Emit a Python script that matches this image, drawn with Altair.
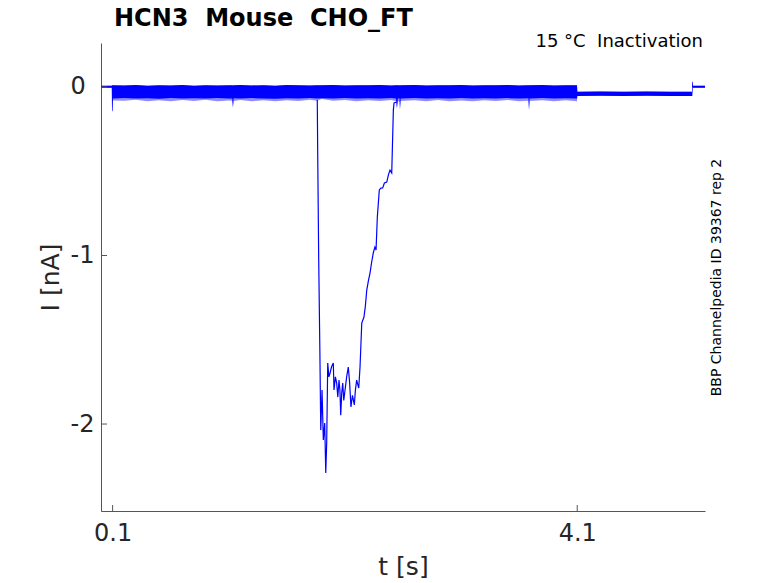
import altair as alt
import pandas as pd

# ---- data ----
# overlapped sweeps envelope: time [s], upper edge, solid lower edge, faint lower fringe [nA]
band_t = [0.0, 0.05, 0.093, 0.095, 0.099, 0.103, 0.2, 0.3, 0.4, 0.5, 0.6, 0.7, 0.8, 0.9, 1.0,
          1.1, 1.13, 1.136, 1.142, 1.2, 1.3, 1.4, 1.5, 1.6, 1.7, 1.8, 1.86, 1.9, 2.0, 2.1, 2.2,
          2.3, 2.4, 2.5, 2.54, 2.548, 2.556, 2.57, 2.574, 2.58, 2.7, 2.8, 2.9, 3.0, 3.1, 3.2,
          3.3, 3.4, 3.5, 3.6, 3.68, 3.685, 3.69, 3.8, 3.9, 4.0, 4.098, 4.101, 4.3, 4.5, 4.7,
          4.9, 5.088, 5.09, 5.094, 5.097, 5.2]
band_hi = [0.008, 0.008, 0.008, 0.010, 0.010, 0.011, 0.009, 0.012, 0.008, 0.011, 0.009, 0.012,
           0.008, 0.011, 0.009, 0.010, 0.011, 0.009, 0.010, 0.012, 0.009, 0.011, 0.008, 0.012,
           0.010, 0.009, 0.011, 0.010, 0.012, 0.009, 0.011, 0.010, 0.012, 0.009, 0.010, 0.011,
           0.010, 0.011, 0.009, 0.010, 0.012, 0.009, 0.011, 0.010, 0.012, 0.009, 0.011, 0.010,
           0.012, 0.009, 0.011, 0.010, 0.010, 0.012, 0.009, 0.011, 0.010, -0.028, -0.027,
           -0.029, -0.027, -0.028, -0.028, 0.031, 0.031, 0.008, 0.008]
band_core = [-0.004, -0.004, -0.004, -0.140, -0.145, -0.068, -0.066, -0.069, -0.067, -0.070,
             -0.066, -0.068, -0.067, -0.069, -0.066, -0.068, -0.068, -0.120, -0.067, -0.069,
             -0.066, -0.068, -0.070, -0.067, -0.068, -0.066, -0.069, -0.067, -0.068, -0.066,
             -0.069, -0.067, -0.068, -0.066, -0.069, -0.125, -0.068, -0.067, -0.130, -0.068,
             -0.066, -0.069, -0.067, -0.068, -0.066, -0.069, -0.067, -0.068, -0.066, -0.069,
             -0.067, -0.137, -0.068, -0.066, -0.069, -0.067, -0.068, -0.053, -0.052, -0.053,
             -0.052, -0.053, -0.053, -0.053, -0.002, -0.004, -0.004]
band_lo = [-0.004, -0.004, -0.004, -0.140, -0.145, -0.080, -0.082, -0.076, -0.084, -0.079,
           -0.085, -0.077, -0.083, -0.076, -0.084, -0.080, -0.082, -0.120, -0.083, -0.077,
           -0.084, -0.079, -0.085, -0.078, -0.083, -0.076, -0.081, -0.072, -0.082, -0.077,
           -0.084, -0.079, -0.083, -0.077, -0.084, -0.125, -0.084, -0.086, -0.130, -0.083,
           -0.079, -0.085, -0.077, -0.084, -0.080, -0.085, -0.078, -0.083, -0.077, -0.085,
           -0.082, -0.137, -0.083, -0.079, -0.085, -0.078, -0.084, -0.053, -0.052, -0.053,
           -0.052, -0.053, -0.053, -0.053, -0.002, -0.004, -0.004]

# single sweep with the large transient
sweep_t = [1.862, 1.866, 1.874, 1.884, 1.892, 1.903, 1.914, 1.926, 1.935, 1.943, 1.952, 1.962,
           1.972, 1.985, 2.0, 2.006, 2.018, 2.029, 2.039, 2.049, 2.057, 2.064, 2.072, 2.081,
           2.09, 2.101, 2.115, 2.129, 2.14, 2.152, 2.165, 2.181, 2.19, 2.201, 2.219, 2.23,
           2.245, 2.264, 2.276, 2.288, 2.302, 2.316, 2.33, 2.344, 2.358, 2.368, 2.379, 2.396,
           2.41, 2.425, 2.44, 2.46, 2.475, 2.488, 2.503, 2.517, 2.523, 2.546]
sweep_i = [-0.077, -0.414, -1.007, -1.55, -2.036, -1.798, -2.095, -1.994, -2.291, -2.113,
           -1.638, -1.72, -1.697, -1.66, -1.638, -1.798, -1.72, -1.757, -1.84, -1.739, -1.80,
           -1.947, -1.82, -1.757, -1.86, -1.798, -1.72, -1.662, -1.75, -1.899, -1.83, -1.887,
           -1.80, -1.739, -1.786, -1.662, -1.401, -1.365, -1.30, -1.205, -1.15, -1.104, -1.04,
           -0.985, -0.95, -0.967, -0.772, -0.611, -0.60, -0.599, -0.57, -0.564, -0.52, -0.493,
           -0.510, -0.136, -0.095, -0.089]

x_ticks = [0.1, 4.1]
y_ticks = [0, -1, -2]
title_text = "HCN3 \u00a0Mouse \u00a0CHO_FT"
cond_text = ["15 °C \u00a0Inactivation"]
side_text = ["BBP Channelpedia ID 39367 rep 2"]

W, H = 604, 468
FONT = "DejaVu Sans"
BLUE = "#0000ff"
AX = "#555555"
TXT = "#262626"

xs = alt.Scale(domain=[0, 5.2], nice=False, zero=False)
ys = alt.Scale(domain=[-2.516, 0.261], nice=False, zero=False)

band_df = pd.DataFrame({"t": band_t, "hi": band_hi, "core": band_core, "lo": band_lo})
sweep_df = pd.DataFrame({"t": sweep_t, "i": sweep_i})

fringe = alt.Chart(band_df).mark_area(color=BLUE, opacity=0.45, interpolate="linear").encode(
    x=alt.X("t:Q", scale=xs,
            axis=alt.Axis(values=x_ticks, format=".1f", title="t [s]", grid=False,
                          ticks=False, tickSize=0, labelPadding=10, titlePadding=9,
                          labelFontSize=24, titleFontSize=25, labelFont=FONT, titleFont=FONT,
                          labelColor=TXT, titleColor=TXT, titleFontWeight="normal",
                          domainColor=AX, domainWidth=1)),
    y=alt.Y("hi:Q", scale=ys,
            axis=alt.Axis(values=y_ticks, labelExpr="'' + datum.value", title="I [nA]",
                          grid=False, ticks=False, tickSize=0, labelPadding=31,
                          labelAlign="left", titlePadding=7,
                          labelFontSize=24, titleFontSize=25, labelFont=FONT, titleFont=FONT,
                          labelColor=TXT, titleColor=TXT, titleFontWeight="normal",
                          domainColor=AX, domainWidth=1)),
    y2="lo:Q",
)

band = alt.Chart(band_df).mark_area(color=BLUE, opacity=1, interpolate="linear").encode(
    x=alt.X("t:Q", scale=xs),
    y=alt.Y("hi:Q", scale=ys),
    y2="core:Q",
)

sweep = alt.Chart(sweep_df).mark_line(color=BLUE, strokeWidth=1.2, interpolate="linear").encode(
    x=alt.X("t:Q", scale=xs),
    y=alt.Y("i:Q", scale=ys),
)

xt = alt.Chart(pd.DataFrame({"t": x_ticks})).mark_rule(color=AX, strokeWidth=1).encode(
    x=alt.X("t:Q", scale=xs), y=alt.value(H), y2=alt.value(H - 6))
yt = alt.Chart(pd.DataFrame({"v": y_ticks})).mark_rule(color=AX, strokeWidth=1).encode(
    y=alt.Y("v:Q", scale=ys), x=alt.value(0), x2=alt.value(6))

cond = alt.Chart(pd.DataFrame({"s": cond_text})).mark_text(
    font=FONT, fontSize=18, color="#000000", align="right", baseline="alphabetic").encode(
    text="s:N", x=alt.value(602), y=alt.value(4))

side = alt.Chart(pd.DataFrame({"s": side_text})).mark_text(
    font=FONT, fontSize=14, color="#000000", align="center", baseline="middle", angle=270).encode(
    text="s:N", x=alt.value(615.5), y=alt.value(234.5))

chart = alt.layer(fringe, band, sweep, xt, yt, cond, side).properties(
    width=W, height=H,
    title=alt.TitleParams(title_text, anchor="start", frame="group", dx=13, offset=2,
                          font=FONT, fontSize=24, fontWeight="bold", color="#000000"),
    autosize=alt.AutoSizeParams(type="none"),
    padding={"left": 93, "top": 35, "right": 65, "bottom": 70},
).configure_view(strokeWidth=0)

chart.save("out.html", embed_options={"renderer": "svg", "actions": False})
